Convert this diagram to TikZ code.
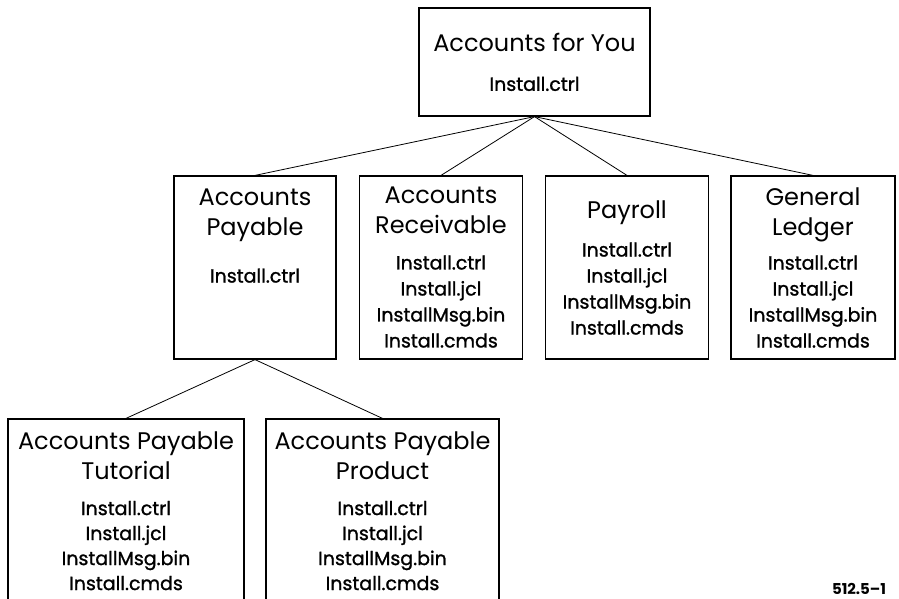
\documentclass[tikz,border=0pt]{standalone}
\usepackage{fontspec}
\setmainfont{Poppins}
\newfontfamily\filefont[FakeBold=1.2]{Poppins}
\newcommand{\boxtitle}{\rmfamily\fontsize{24}{30}\selectfont}
\usepackage{tikz}

\begin{document}
\begin{tikzpicture}[x=1pt, y=1pt, node distance=186pt]
% Styles
\tikzstyle{box} = [rectangle, draw=black, line width=1.2pt, inner sep=0pt, align=center, text centered, font=\filefont\fontsize{19}{26}\selectfont]
\tikzstyle{line} = [line width=0.8pt]

\useasboundingbox (0,0) rectangle (899,-599);

\node (accounts_you) [box, minimum width=231pt, minimum height=108pt] at (534.5,-62) {{\boxtitle Accounts for You}\\[13.5pt]Install.ctrl};
\node (accounts_payable) [box, minimum width=162pt, minimum height=183pt] at (255,-267.5) {{\boxtitle Accounts}\\[4pt]{\boxtitle Payable}\\[21.5pt]Install.ctrl\\[38pt]\mbox{}};
\node (accounts_receivable) [box, right of=accounts_payable, minimum width=163pt, minimum height=183pt] {{\boxtitle Accounts}\\[4pt]{\boxtitle Receivable}\\[9.5pt]Install.ctrl\\Install.jcl\\InstallMsg.bin\\Install.cmds};
\node (payroll) [box, right of=accounts_receivable, minimum width=163pt, minimum height=183pt] {{\boxtitle Payroll}\\[12.5pt]Install.ctrl\\Install.jcl\\InstallMsg.bin\\Install.cmds};
\node (general_ledger) [box, right of=payroll, minimum width=164pt, minimum height=183pt] {{\boxtitle General}\\[4pt]{\boxtitle Ledger}\\[8.5pt]Install.ctrl\\Install.jcl\\InstallMsg.bin\\Install.cmds};
\node (ap_tutorial) [box, minimum width=236pt, minimum height=184pt] at (126,-511) {{\boxtitle Accounts Payable}\\[4pt]{\boxtitle Tutorial}\\[9.5pt]Install.ctrl\\[-1pt]Install.jcl\\[-1pt]InstallMsg.bin\\[-1pt]Install.cmds};
\node (ap_product) [box, right of=ap_tutorial, xshift=70.5pt, minimum width=233pt, minimum height=184pt] {{\boxtitle Accounts Payable}\\[4pt]{\boxtitle Product}\\[9.5pt]Install.ctrl\\[-1pt]Install.jcl\\[-1pt]InstallMsg.bin\\[-1pt]Install.cmds};

\node (fig_number) at (859,-589) {\bfseries\fontsize{15}{17}\selectfont 512.5--1};

\draw [line] (accounts_you.south) -- (accounts_payable.north);
\draw [line] (accounts_you.south) -- (accounts_receivable.north);
\draw [line] (accounts_you.south) -- (payroll.north);
\draw [line] (accounts_you.south) -- (general_ledger.north);
\draw [line] (accounts_payable.south) -- (ap_tutorial.north);
\draw [line] (accounts_payable.south) -- (ap_product.north);

\end{tikzpicture}
\end{document}
